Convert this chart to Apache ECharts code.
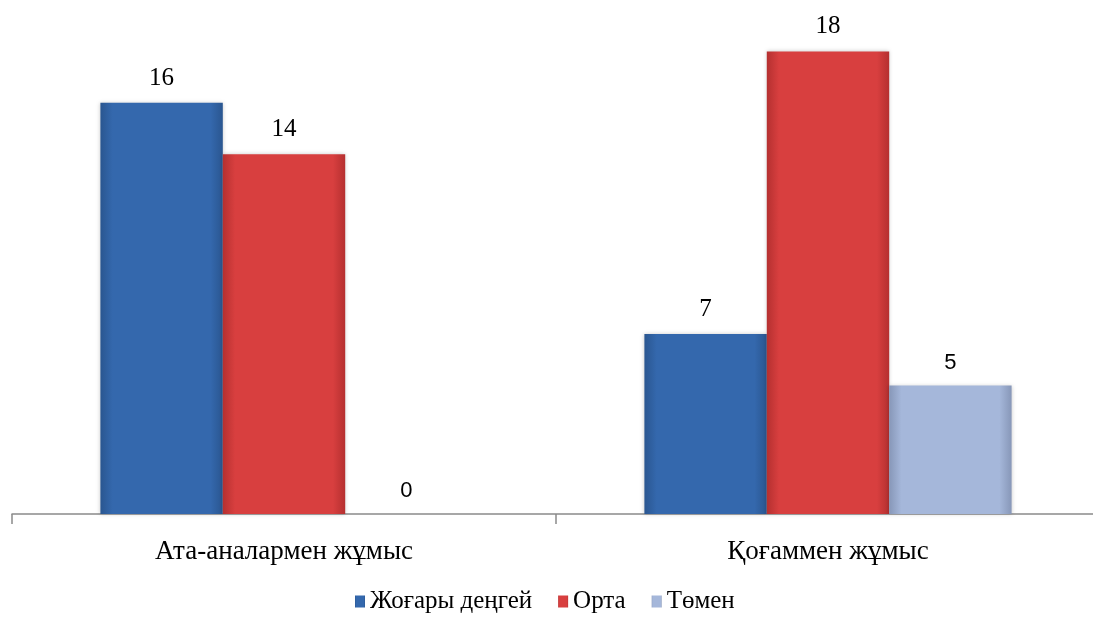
<!DOCTYPE html>
<html>
<head>
<meta charset="utf-8">
<script src="https://cdn.jsdelivr.net/npm/echarts@6/dist/echarts.min.js"></script>
<style>
  html, body { margin: 0; padding: 0; background: #fff; overflow: hidden; }
  #chart { width: 1100px; height: 619px; }
</style>
</head>
<body>
<div id="chart"></div>
<script>
var categories = ['Ата-аналармен жұмыс', 'Қоғаммен жұмыс']
var seriesNames = ['Жоғары деңгей', 'Орта', 'Төмен']
var high = [16, 7]
var mid = [14, 18]
var low = [0, 5]

function grad(edge, center) {
  return new echarts.graphic.LinearGradient(0, 0, 1, 0, [
    { offset: 0, color: edge },
    { offset: 0.1, color: center },
    { offset: 0.9, color: center },
    { offset: 1, color: edge }
  ])
}

var chart = echarts.init(document.getElementById('chart'))
var serif = 'Liberation Serif'

var option = {
  animation: false,
  textStyle: { fontFamily: serif },
  grid: { left: 12, top: 0, right: 0, bottom: 105 },
  legend: {
    bottom: 0,
    left: 350,
    icon: 'rect',
    itemWidth: 10,
    itemHeight: 12,
    itemGap: 26,
    textStyle: {
      color: '#000',
      rich: { s: { fontFamily: serif, fontSize: 25, color: '#000' } }
    },
    formatter: function (name) { return '{s|' + name + '}' },
    data: seriesNames
  },
  xAxis: {
    type: 'category',
    data: categories,
    axisLine: { lineStyle: { color: '#8a8a8a', width: 1.5 } },
    axisTick: { show: true, length: 10, lineStyle: { color: '#8a8a8a', width: 1.5 } },
    axisLabel: { fontFamily: serif, fontSize: 27, color: '#000', margin: 24 }
  },
  yAxis: {
    type: 'value',
    min: 0,
    max: 20,
    show: false,
    splitLine: { show: false }
  },
  series: [
    {
      name: seriesNames[0],
      type: 'bar',
      data: high,
      barGap: '0%',
      barCategoryGap: '32.5%',
      itemStyle: { color: grad('#2a5690', '#3468ad'), shadowBlur: 4, shadowColor: 'rgba(0,0,0,0.2)' },
      label: { show: true, position: 'top', distance: 12, fontFamily: serif, fontSize: 25, color: '#000' }
    },
    {
      name: seriesNames[1],
      type: 'bar',
      data: mid,
      itemStyle: { color: grad('#b53030', '#d83f3f'), shadowBlur: 4, shadowColor: 'rgba(0,0,0,0.2)' },
      label: { show: true, position: 'top', distance: 12, fontFamily: serif, fontSize: 25, color: '#000' }
    },
    {
      name: seriesNames[2],
      type: 'bar',
      data: low,
      itemStyle: { color: grad('#8797b8', '#a5b7da'), shadowBlur: 4, shadowColor: 'rgba(0,0,0,0.2)' },
      label: { show: true, position: 'top', distance: 12, fontFamily: 'Liberation Sans', fontSize: 22, color: '#000' }
    }
  ]
}
chart.setOption(option)
</script>
</body>
</html>
